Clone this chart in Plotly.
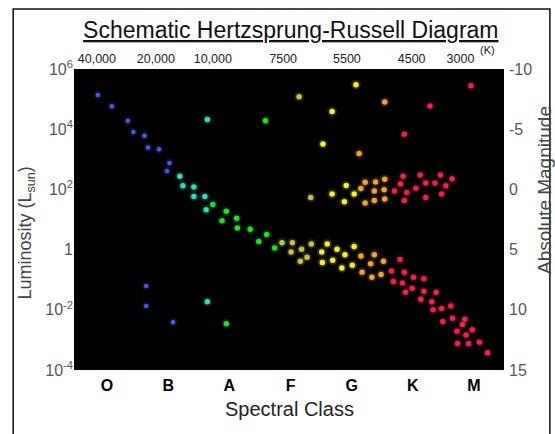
import plotly.graph_objects as go

# ---------------- data ----------------
spectral_classes = ["O", "B", "A", "F", "G", "K", "M"]
class_pos = [0, 1, 2, 3, 4, 5, 6]

temp_labels = ["40,000", "20,000", "10,000", "7500", "5500", "4500", "3000"]
temp_pos = [-0.166, 0.798, 1.729, 2.879, 3.922, 4.980, 5.778]

lum_tick_exp = [-4, -2, 0, 2, 4, 6]
mag_ticks = [-10, -5, 0, 5, 10, 15]

# positions along spectral-class axis (O=0 ... M=6) and log10 luminosity
blue_x = [-0.15, 0.08, 0.34, 0.43, 0.61, 0.67, 0.85, 1.02, 0.98, 0.64, 0.64, 1.08]
blue_logL = [5.14, 4.76, 4.28, 3.91, 3.78, 3.39, 3.33, 2.88, 2.61, -1.21, -1.87, -2.41]

cyan_x = [1.19, 1.24, 1.42, 1.42, 1.60, 1.62, 1.64, 1.64]
cyan_logL = [2.44, 2.12, 2.08, 1.76, 1.76, 1.32, 4.32, -1.73]

green_x = [1.73, 1.88, 1.95, 2.12, 2.13, 2.34, 2.48, 2.61, 2.74, 2.59, 1.95]
green_logL = [1.50, 0.96, 1.27, 1.04, 0.72, 0.68, 0.27, 0.50, 0.05, 4.28, -2.46]

lime_x = [2.86]
lime_logL = [0.23]

olive_x = [3.03, 3.01, 3.18, 3.16, 3.27, 3.34, 3.14, 3.33]
olive_logL = [0.23, -0.08, 0.01, -0.39, -0.25, 0.19, 5.08, 1.73]

yellow_x = [3.51, 3.60, 3.52, 3.69, 3.76, 3.89, 3.84, 4.01, 4.04,
            4.07, 3.68, 3.53, 3.91, 3.68, 4.04, 3.88]
yellow_logL = [-0.08, 0.19, -0.43, -0.35, 0.01, -0.17, -0.61, -0.52, 0.10,
               5.48, 4.59, 3.51, 2.13, 1.85, 1.85, 1.59]

orange_x = [4.15, 4.37, 4.31, 4.52, 4.17, 4.33, 4.48,
            4.54, 4.12, 4.15, 4.22, 4.39, 4.54, 4.37, 4.53, 4.22, 4.37, 4.54]
orange_logL = [-0.21, -0.17, -0.47, -0.39, -0.75, -0.92, -0.83,
               4.90, 3.19, 2.03, 2.24, 2.25, 2.34, 1.95, 1.99, 1.55, 1.63, 1.68]

red_x = [5.95, 5.28, 4.86, 4.84, 5.12, 5.45, 5.64, 4.80, 5.21, 5.36, 5.54, 4.70,
         4.90, 5.05, 5.47, 4.86, 5.21,
         4.65, 4.79, 4.86, 4.68, 4.83, 5.01, 5.18, 4.99, 4.88, 5.18, 5.38, 5.13,
         5.31, 5.33, 5.47, 5.62, 5.49, 5.65, 5.81, 5.85, 5.97, 5.72, 5.87, 5.73,
         5.91, 6.09, 6.22]
red_logL = [5.44, 4.77, 3.83, 2.44, 2.48, 2.48, 2.35, 2.18, 2.21, 2.21, 2.12, 1.95,
            1.90, 2.04, 1.85, 1.63, 1.73,
            -0.71, -0.33, -0.75, -1.06, -1.11, -0.92, -0.97, -1.28, -1.42, -1.38,
            -1.42, -1.65, -1.73, -2.00, -1.96, -1.87, -2.39, -2.28, -2.49, -2.31,
            -2.66, -2.71, -2.84, -3.12, -3.12, -3.08, -3.43]

group_colors = ["#4a5af0", "#30dcb8", "#24dc2a", "#a6d236", "#c8c244",
                "#f4f02c", "#f0a232", "#f2204c"]
group_sizes = [4.5, 5.5, 5.5, 5.5, 5.5, 5.5, 5.5, 5.5]

groups = [
    (blue_x, blue_logL), (cyan_x, cyan_logL), (green_x, green_logL),
    (lime_x, lime_logL), (olive_x, olive_logL), (yellow_x, yellow_logL),
    (orange_x, orange_logL), (red_x, red_logL),
]

FONT = "Liberation Sans, Arial, Helvetica, sans-serif"

fig = go.Figure()
for (xs, ls), col, sz in zip(groups, group_colors, group_sizes):
    ys = [10 ** v for v in ls]
    fig.add_trace(go.Scatter(x=xs, y=ys, mode="markers",
                             marker=dict(size=sz + 4, color=col, opacity=0.18, line=dict(width=0)),
                             hoverinfo="skip", showlegend=False))
    fig.add_trace(go.Scatter(x=xs, y=ys, mode="markers",
                             marker=dict(size=sz, color=col, line=dict(width=0)),
                             showlegend=False))

# empty trace so that the secondary (top / right) axes are drawn
fig.add_trace(go.Scatter(x=[], y=[], xaxis="x2", yaxis="y2", showlegend=False, hoverinfo="skip"))

xr = [-0.54, 6.49]

fig.update_layout(
    width=555, height=434,
    margin=dict(l=74, r=51, t=69, b=64),
    paper_bgcolor="white", plot_bgcolor="black",
    showlegend=False,
    font=dict(family=FONT, color="#444"),
    title=dict(text="<u>Schematic Hertzsprung-Russell Diagram</u>",
               x=0.524, xanchor="center", y=0.931, yanchor="middle",
               font=dict(size=23, color="#111", family=FONT)),
    xaxis=dict(range=xr, tickmode="array", tickvals=class_pos,
               ticktext=["<b>%s</b>" % c for c in spectral_classes],
               tickfont=dict(size=16, color="black", family=FONT),
               showgrid=False, zeroline=False, ticks="", showline=False,
               ticklabelstandoff=4),
    xaxis2=dict(range=xr, overlaying="x", side="top", anchor="y",
                tickmode="array", tickvals=temp_pos, ticktext=temp_labels,
                tickfont=dict(size=12.5, color="#222", family=FONT),
                showgrid=False, zeroline=False, ticks="", showline=False,
                ticklabelstandoff=3),
    yaxis=dict(type="log", range=[-4, 6], tickmode="array",
               tickvals=[10 ** e for e in lum_tick_exp],
               ticktext=["1" if e == 0 else "10<sup>%d</sup>" % e for e in lum_tick_exp],
               tickfont=dict(size=16, color="#555", family=FONT),
               showgrid=False, zeroline=False, ticks="", showline=False),
    yaxis2=dict(range=[15, -10], overlaying="y", side="right", anchor="x",
                tickmode="array", tickvals=mag_ticks,
                ticktext=[str(m) for m in mag_ticks],
                tickfont=dict(size=16, color="#555", family=FONT),
                showgrid=False, zeroline=False, ticks="", showline=False,
                ticklabelstandoff=4),
    annotations=[
        dict(text="Luminosity (L<sub>sun</sub>)", xref="paper", yref="paper",
             x=-0.111, y=0.454, textangle=-90, showarrow=False,
             xanchor="center", yanchor="middle",
             font=dict(size=18, color="#444", family=FONT)),
        dict(text="Absolute Magnitude", xref="paper", yref="paper",
             x=1.093, y=0.598, textangle=-90, showarrow=False,
             xanchor="center", yanchor="middle",
             font=dict(size=19, color="#444", family=FONT)),
        dict(text="Spectral Class", xref="paper", yref="paper",
             x=0.501, y=-0.13, showarrow=False,
             xanchor="center", yanchor="middle",
             font=dict(size=20, color="#222", family=FONT)),
        dict(text="(K)", xref="paper", yref="paper",
             x=0.9606, y=1.063, showarrow=False,
             xanchor="center", yanchor="middle",
             font=dict(size=11, color="#222", family=FONT)),
    ],
    shapes=[
        dict(type="rect", xref="paper", yref="paper",
             x0=-0.1415, x1=1.1067, y0=-0.235, y1=1.199,
             line=dict(color="#111", width=1.5), fillcolor="rgba(0,0,0,0)"),
    ],
)

fig.write_html("out.html",
               config={"displayModeBar": False},
               post_script="document.body.style.margin='0';document.body.style.overflow='hidden';")
